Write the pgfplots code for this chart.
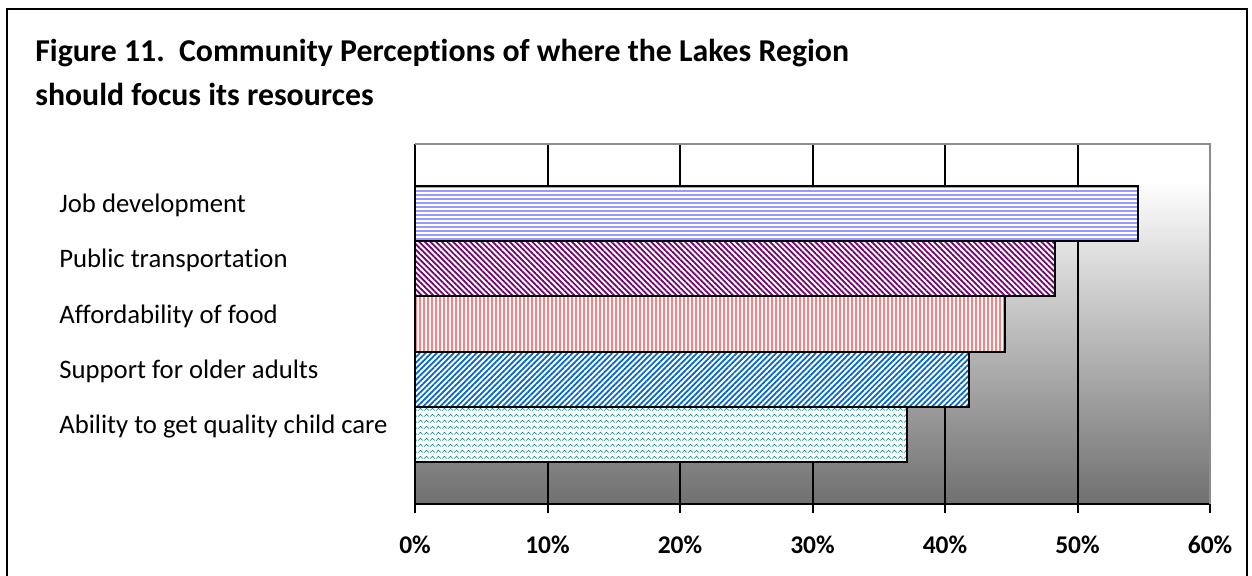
\documentclass[border=0pt]{standalone}
\usepackage{fontspec}
\setmainfont{Carlito}[Ligatures=NoCommon]
\usepackage{pgfplots}
\pgfplotsset{compat=1.18}
\usetikzlibrary{patterns.meta}

\definecolor{jobc}{HTML}{9999FF}
\definecolor{transc}{HTML}{720072}
\definecolor{foodc}{HTML}{FF8080}
\definecolor{olderc}{HTML}{0066CC}
\definecolor{childc}{HTML}{008080}
\definecolor{bggray}{HTML}{707070}
\definecolor{edgegray}{HTML}{8C8C8C}

\pgfdeclareverticalshading{bgshade}{100bp}{color(0bp)=(bggray); color(25bp)=(bggray); color(70bp)=(white); color(100bp)=(white)}

\tikzdeclarepattern{
  name=zigzag, type=uncolored,
  bounding box={(0mm,0mm) and (1.1mm,1.1mm)},
  tile size={(1.1mm,1.1mm)},
  code={
    \pgfsetlinewidth{0.11mm}
    \pgfpathmoveto{\pgfqpoint{0mm}{0.3mm}}
    \pgfpathlineto{\pgfqpoint{0.55mm}{0.8mm}}
    \pgfpathlineto{\pgfqpoint{1.1mm}{0.3mm}}
    \pgfusepath{stroke}
  }
}

\tikzset{hbar/.style={xbar, bar width=1, bar shift=0pt, draw=black, line width=0.4mm, preaction={fill=white}}}

\begin{document}
\begin{tikzpicture}[x=0.2mm,y=0.2mm]
  \useasboundingbox (0,0) rectangle (1252,-575);
  \draw[line width=0.4mm] (7,-600) -- (7,-9) -- (1247,-9) -- (1247,-600);
  \node[anchor=base west, inner sep=0, font=\bfseries\fontsize{18.1}{21}\selectfont] at (35,-61)
    {Figure 11.\ \ Community Perceptions of where the Lakes Region};
  \node[anchor=base west, inner sep=0, font=\bfseries\fontsize{18.1}{21}\selectfont] at (35,-105)
    {should focus its resources};
  \begin{axis}[
    at={(83mm,-100.8mm)}, anchor=south west,
    scale only axis, width=159mm, height=72mm,
    xmin=0, xmax=60, ymin=-0.25, ymax=6.25,
    axis x line*=bottom, axis y line*=left,
    axis line style={-, line width=0.4mm, black},
    axis background/.style={shading=bgshade},
    tick align=outside, major tick length=1.8mm,
    xtick={10,20,30,40,50},
    xticklabels={10\%,20\%,30\%,40\%,50\%},
    extra x ticks={0,60},
    extra x tick labels={0\%,60\%},
    extra x tick style={grid=none},
    xmajorgrids,
    major grid style={black, line width=0.4mm},
    x tick style={black, line width=0.4mm},
    xticklabel style={font=\bfseries\fontsize{14.5}{16}\selectfont, yshift=-3.4mm},
    ytick={1,2,3,4,5},
    yticklabels={Ability to get quality child care, Support for older adults,
                 Affordability of food, Public transportation, Job development},
    y tick style={draw=none},
    yticklabel style={font=\fontsize{15.2}{17}\selectfont, anchor=base west, inner sep=0pt, xshift=-69.4mm, yshift=0.2mm},
    extra y ticks={-0.25,6.25},
    extra y tick labels={},
    extra y tick style={tick style={draw=black, line width=0.4mm}},
    after end axis/.code={
      \draw[edgegray, line width=0.4mm] (rel axis cs:0,1) -- (rel axis cs:1,1) -- (rel axis cs:1,0);
    },
  ]
    \addplot[hbar, pattern={Lines[angle=0,distance=0.8mm,line width=0.4mm]}, pattern color=jobc]
      coordinates {(54.6,5)};
    \addplot[hbar, pattern={Lines[angle=-45,distance=0.8mm,line width=0.35mm]}, pattern color=transc]
      coordinates {(48.3,4)};
    \addplot[hbar, pattern={Lines[angle=90,distance=0.8mm,line width=0.4mm]}, pattern color=foodc]
      coordinates {(44.5,3)};
    \addplot[hbar, pattern={Lines[angle=45,distance=0.8mm,line width=0.35mm]}, pattern color=olderc]
      coordinates {(41.8,2)};
    \addplot[hbar, pattern=zigzag, pattern color=childc]
      coordinates {(37.1,1)};
  \end{axis}
\end{tikzpicture}
\end{document}
